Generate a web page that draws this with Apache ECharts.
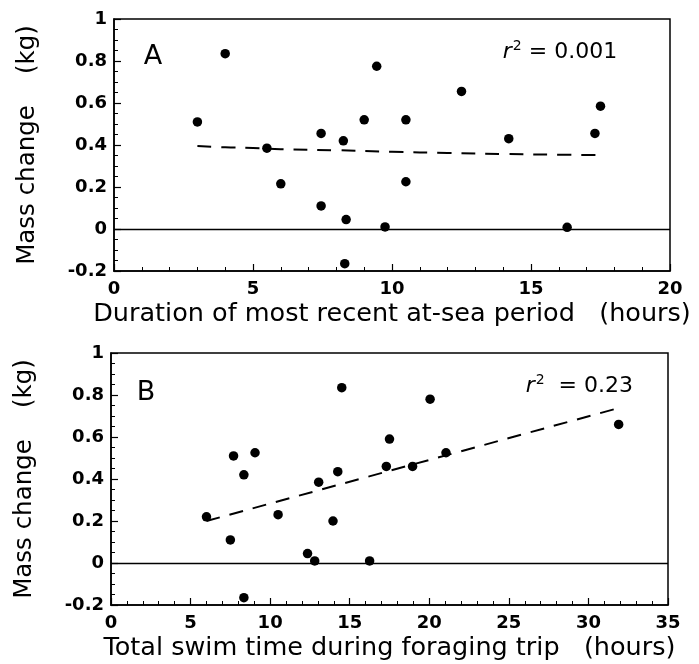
<!DOCTYPE html>
<html>
<head>
<meta charset="utf-8">
<script src="https://cdn.jsdelivr.net/npm/echarts@6/dist/echarts.min.js"></script>
<style>
html,body{margin:0;padding:0;background:#fff;}
#chart{width:699px;height:664px;}
</style>
</head>
<body>
<div id="chart"></div>
<script>
// Panel A: duration of most recent at-sea period (hours) vs mass change (kg)
const durationA = [3.0, 4.0, 5.5, 6.0, 7.45, 7.45, 8.25, 8.35, 8.3, 9.0, 9.45, 9.75, 10.5, 10.5, 12.5, 14.2, 16.3, 17.3, 17.5];
const massA     = [0.51, 0.835, 0.385, 0.215, 0.455, 0.11, 0.42, 0.045, -0.165, 0.52, 0.775, 0.01, 0.52, 0.225, 0.655, 0.43, 0.008, 0.455, 0.585];
// Panel A fitted curve
const fitAx = [3, 4, 5, 6, 8, 10, 12, 14, 16, 17.5];
const fitAy = [0.395, 0.389, 0.386, 0.38, 0.375, 0.368, 0.362, 0.357, 0.354, 0.352];

// Panel B: total swim time during foraging trip (hours) vs mass change (kg)
const swimB = [6.0, 7.5, 7.7, 8.35, 8.35, 9.05, 10.5, 12.35, 12.8, 13.05, 13.95, 14.25, 14.5, 16.25, 17.3, 17.5, 18.95, 20.05, 21.05, 31.9];
const massB = [0.22, 0.11, 0.51, 0.42, -0.165, 0.525, 0.23, 0.045, 0.01, 0.385, 0.2, 0.435, 0.835, 0.01, 0.46, 0.59, 0.46, 0.78, 0.525, 0.66];
// Panel B fitted line
const fitBx = [6, 32];
const fitBy = [0.20, 0.74];

const r2Labels = ['0.001', '0.23'];
const panelLetters = ['A', 'B'];
const xTitles = ['Duration of most recent at-sea period   (hours)', 'Total swim time during foraging trip   (hours)'];
const yTitle = 'Mass change    (kg)';

const zip = (xs, ys) => xs.map((x, i) => [x, ys[i]]);

const FONT = 'DejaVu Sans';
const black = '#000';

function xAxisFor(idx, max) {
  return {
    type: 'value', gridIndex: idx, min: 0, max: max, interval: 5,
    axisLine: { onZero: false, lineStyle: { color: black, width: 1.5 } },
    axisTick: { inside: true, length: 7, lineStyle: { color: black, width: 1.2 } },
    minorTick: { show: true, splitNumber: 5, length: 4, lineStyle: { color: black, width: 1 } },
    splitLine: { show: false },
    axisLabel: { color: black, fontSize: 18, fontWeight: 'bold', fontFamily: FONT, margin: 9 },
    name: xTitles[idx], nameLocation: 'middle', nameGap: 30,
    nameTextStyle: { color: black, fontSize: 25.5, fontFamily: FONT }
  };
}
function yAxisFor(idx) {
  return {
    type: 'value', gridIndex: idx, min: -0.2, max: 1, interval: 0.2,
    axisLine: { onZero: false, lineStyle: { color: black, width: 1.5 } },
    axisTick: { inside: true, length: 7, lineStyle: { color: black, width: 1.2 } },
    minorTick: { show: true, splitNumber: 4, length: 4, lineStyle: { color: black, width: 1 } },
    splitLine: { show: false },
    axisLabel: { color: black, fontSize: 18, fontWeight: 'bold', fontFamily: FONT, margin: 7 },
    name: yTitle, nameLocation: 'middle', nameGap: 74, nameRotate: 90,
    nameTextStyle: { color: black, fontSize: 24.5, fontFamily: FONT }
  };
}
function scatterFor(idx, data) {
  return {
    type: 'scatter', xAxisIndex: idx, yAxisIndex: idx, data: data,
    symbol: 'circle', symbolSize: 9.5, itemStyle: { color: black, opacity: 1 }, silent: true,
    markLine: {
      silent: true, symbol: 'none', label: { show: false },
      lineStyle: { color: black, type: 'solid', width: 1.4, opacity: 1 },
      data: [{ yAxis: 0 }]
    }
  };
}
function fitFor(idx, data) {
  return {
    type: 'line', xAxisIndex: idx, yAxisIndex: idx, data: data, symbol: 'none', smooth: true,
    lineStyle: { color: black, width: 2, type: [14, 10], opacity: 1 }, silent: true
  };
}
function letterFor(idx, pos) {
  return {
    type: 'scatter', xAxisIndex: idx, yAxisIndex: idx, data: [pos], symbolSize: 0, silent: true,
    itemStyle: { opacity: 1 },
    label: { show: true, position: [0, 0], align: 'center', verticalAlign: 'middle',
      formatter: panelLetters[idx], color: black, opacity: 1, textBorderWidth: 0,
      fontSize: 27, fontFamily: FONT }
  };
}
function r2For(idx, pos) {
  return {
    type: 'scatter', xAxisIndex: idx, yAxisIndex: idx, data: [pos], symbolSize: 0, silent: true,
    itemStyle: { opacity: 1 },
    label: { show: true, position: [0, 0], align: 'right', verticalAlign: 'middle',
      opacity: 1, textBorderWidth: 0,
      formatter: '{i|r}{s|2}{t|' + (idx === 1 ? '  = ' : ' = ') + r2Labels[idx] + '}',
      rich: {
        i: { fontStyle: 'italic', fontSize: 22, fontFamily: FONT, color: black, lineHeight: 26 },
        s: { fontSize: 14, fontFamily: FONT, color: black, verticalAlign: 'top', padding: [0, 0, 10, 1], lineHeight: 26 },
        t: { fontSize: 22, fontFamily: FONT, color: black, lineHeight: 26 }
      } }
  };
}

const chart = echarts.init(document.getElementById('chart'), null, { renderer: 'canvas' });
chart.setOption({
  animation: false,
  backgroundColor: '#fff',
  textStyle: { fontFamily: FONT },
  grid: [
    { left: 114, top: 19, width: 556, height: 252, show: true, borderColor: black, borderWidth: 1.5, backgroundColor: 'transparent' },
    { left: 111, top: 353, width: 557, height: 252, show: true, borderColor: black, borderWidth: 1.5, backgroundColor: 'transparent' }
  ],
  xAxis: [xAxisFor(0, 20), xAxisFor(1, 35)],
  yAxis: [yAxisFor(0), yAxisFor(1)],
  series: [
    scatterFor(0, zip(durationA, massA)),
    fitFor(0, zip(fitAx, fitAy)),
    scatterFor(1, zip(swimB, massB)),
    fitFor(1, zip(fitBx, fitBy)),
    letterFor(0, [1.4, 0.82]),
    letterFor(1, [2.2, 0.81]),
    r2For(0, [18.1, 0.84]),
    r2For(1, [32.8, 0.84])
  ]
});
</script>
</body>
</html>
